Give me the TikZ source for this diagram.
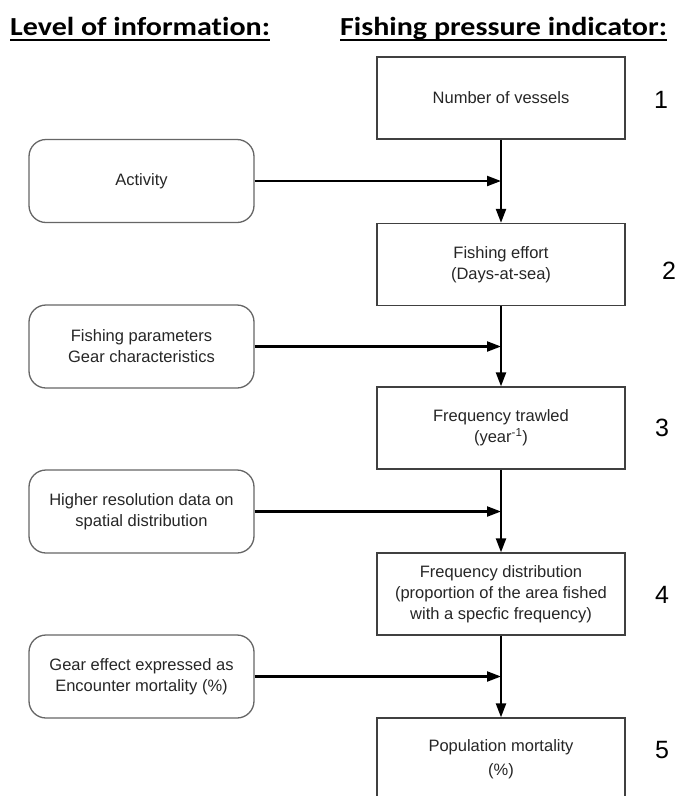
\documentclass[tikz,border=0pt]{standalone}
\usepackage{fontspec}
\setmainfont{Liberation Sans}
\newfontfamily\headfont[FakeStretch=1.155,Ligatures=NoCommon]{Carlito}
\usetikzlibrary{arrows.meta}
\begin{document}
\begin{tikzpicture}[x=1pt,y=-1pt,
  ind/.style={draw=black!75,line width=1.3pt,minimum width=248pt,minimum height=82pt,align=center,
    font=\fontsize{16.5}{21}\selectfont,text=black!85,inner sep=0pt},
  info/.style={draw=black!60,line width=1.3pt,rounded corners=17pt,minimum width=225pt,minimum height=83pt,
    align=center,font=\fontsize{16.5}{21}\selectfont,text=black!85,inner sep=0pt},
  num/.style={font=\fontsize{25}{25}\selectfont,inner sep=0pt},
  head/.style={font=\headfont\bfseries\fontsize{26}{26}\selectfont,inner sep=0pt,anchor=base west},
  uline/.style={line width=1.8pt},
  arr/.style={line width=2.2pt,-{Triangle[length=14pt,width=10pt]}}]
\useasboundingbox (0,0) rectangle (675,796);
\clip (0,0) rectangle (675,796);
\fill[white] (0,0) rectangle (675,796);
% headers
\node[head] (h1) at (10,35) {Level of information:};
\node[head] (h2) at (340,35) {Fishing pressure indicator:};
\draw[uline] ([yshift=-5pt]h1.base west) -- ([yshift=-5pt]h1.base east);
\draw[uline] ([yshift=-5pt]h2.base west) -- ([yshift=-5pt]h2.base east);
% indicator boxes
\node[ind] (b1) at (501,98) {Number of vessels};
\node[ind] (b2) at (501,264.5) {Fishing effort\\(Days-at-sea)};
\node[ind] (b3) at (501,428) {Frequency trawled\\(year\textsuperscript{-1})};
\node[ind] (b4) at (501,594) {Frequency distribution\\(proportion of the area fished\\with a specfic frequency)};
\node[ind] (b5) at (501,759) {Population mortality\\[3pt](\%)};
% numbers
\node[num] (n1) at (661,100) {1};
\node[num] (n2) at (669,271) {2};
\node[num] (n3) at (662,428) {3};
\node[num] (n4) at (662,595) {4};
\node[num] (n5) at (662,750) {5};
% information boxes
\node[info] (a1) at (141.5,181) {Activity};
\node[info] (a2) at (141.5,346.5) {Fishing parameters\\Gear characteristics};
\node[info] (a3) at (141.5,511.5) {Higher resolution data on\\spatial distribution};
\node[info] (a4) at (141.5,676.5) {Gear effect expressed as\\Encounter mortality (\%)};
% junctions
\coordinate (j1) at (b1.south |- a1.east);
\coordinate (j2) at (b2.south |- a2.east);
\coordinate (j3) at (b3.south |- a3.east);
\coordinate (j4) at (b4.south |- a4.east);
% arrows
\draw[arr] (b1.south) -- (b2.north);
\draw[arr] (b2.south) -- (b3.north);
\draw[arr] (b3.south) -- (b4.north);
\draw[arr] (b4.south) -- (b5.north);
\draw[arr] (a1.east) -- (j1);
\draw[arr] (a2.east) -- (j2);
\draw[arr] (a3.east) -- (j3);
\draw[arr] (a4.east) -- (j4);
\end{tikzpicture}
\end{document}
